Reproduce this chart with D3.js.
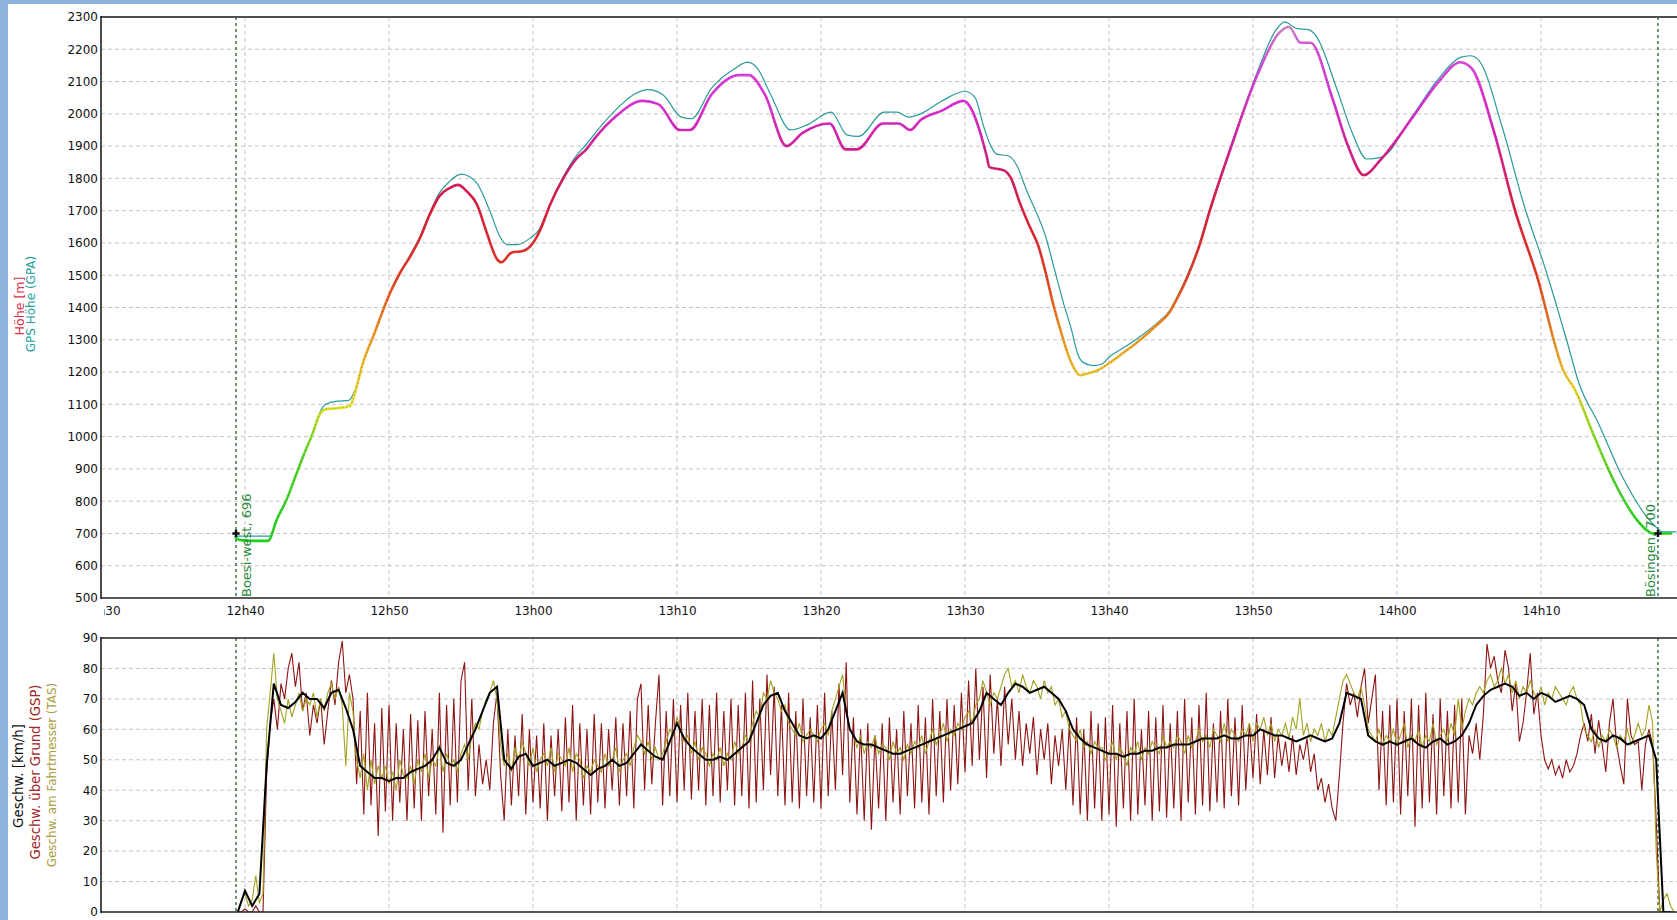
<!DOCTYPE html>
<html>
<head>
<meta charset="utf-8">
<script src="https://cdn.jsdelivr.net/npm/d3@7"></script>
<style>
body { margin: 0; background: #8db4de; }
svg { display: block; }
</style>
</head>
<body>
<script>
// time axis: minutes after 12h30
var timeTicks = [0, 10, 20, 30, 40, 50, 60, 70, 80, 90, 100]
var timeLabels = ["12h30", "12h40", "12h50", "13h00", "13h10", "13h20", "13h30", "13h40", "13h50", "14h00", "14h10"]
var altTicks = [500, 600, 700, 800, 900, 1000, 1100, 1200, 1300, 1400, 1500, 1600, 1700, 1800, 1900, 2000, 2100, 2200, 2300]
var spdTicks = [0, 10, 20, 30, 40, 50, 60, 70, 80, 90]

// waypoints [minute, name]
var waypoints = [[9.375, "Boesi-west, 696"], [108.125, "Bösingen, 700"]]

// barometric altitude [minute, m]
var hoehe = [[9.3,690],[9.6,680],[10.5,677],[11.6,677],[12.2,742],[12.9,806],[13.6,888],[14.05,940],[14.7,1010],[15.2,1070],[15.6,1085],[16.4,1088],[17.3,1095],[17.6,1130],[18.2,1230],[18.9,1310],[20.07,1445],[20.8,1510],[21.5,1560],[22.2,1620],[22.8,1685],[23.5,1745],[24.2,1770],[24.8,1780],[25.4,1760],[26.1,1720],[26.8,1630],[27.5,1550],[27.8,1540],[28.5,1570],[29.3,1575],[30.0,1600],[30.5,1640],[31.2,1720],[32.1,1800],[33.0,1860],[33.7,1890],[34.4,1930],[35.7,1990],[37.6,2040],[38.7,2030],[40.2,1950],[40.9,1950],[42.4,2060],[44.3,2120],[45.0,2120],[46.1,2060],[47.6,1900],[48.7,1940],[50.6,1970],[51.7,1890],[52.5,1890],[54.3,1970],[55.4,1970],[56.2,1950],[56.9,1980],[58.4,2010],[59.9,2040],[60.5,2010],[61.0,1950],[61.5,1870],[61.7,1835],[62.7,1825],[63.2,1800],[63.8,1725],[64.5,1650],[65.1,1590],[65.7,1490],[66.1,1415],[66.6,1335],[67.2,1250],[67.6,1210],[68.0,1190],[68.45,1195],[68.9,1200],[69.4,1210],[70.1,1230],[71.0,1260],[71.9,1290],[73.3,1345],[74.2,1385],[74.7,1425],[75.4,1490],[76.3,1595],[77.0,1700],[78.5,1900],[80.3,2120],[81.8,2250],[82.5,2270],[83.3,2220],[84.0,2220],[85.5,2050],[86.6,1900],[87.7,1810],[88.9,1860],[91.1,1990],[92.9,2100],[94.4,2160],[95.2,2140],[96.7,1950],[98.2,1700],[99.7,1500],[101.6,1200],[102.3,1150],[103.7,1000],[105.2,850],[106.7,740],[107.8,700],[109.1,700]]

// GPS altitude [minute, m]
var gpsHoehe = [[9.3,692],[11.8,692],[12.2,742],[12.9,806],[13.6,888],[14.05,940],[14.7,1010],[15.2,1075],[15.6,1100],[16.4,1110],[17.2,1112],[17.6,1140],[18.2,1230],[18.9,1310],[20.07,1445],[20.8,1510],[21.5,1565],[22.2,1625],[22.8,1690],[23.5,1755],[24.2,1790],[25.0,1813],[25.6,1805],[26.1,1785],[27.0,1700],[27.7,1620],[28.2,1595],[28.9,1595],[29.8,1615],[30.4,1640],[31.2,1720],[32.1,1805],[33.0,1870],[33.7,1905],[34.4,1945],[35.7,2010],[37.0,2060],[38.0,2075],[39.0,2060],[40.3,1990],[41.0,1985],[42.4,2080],[44.0,2140],[44.9,2160],[45.6,2140],[46.5,2060],[47.9,1950],[49.0,1965],[50.7,2005],[51.8,1935],[52.6,1930],[54.4,2005],[55.3,2005],[56.1,1990],[56.9,2000],[58.4,2040],[60.0,2070],[60.7,2050],[61.3,1960],[61.8,1900],[62.2,1875],[63.0,1870],[63.6,1840],[64.3,1760],[65.0,1690],[65.6,1620],[66.2,1520],[66.8,1420],[67.4,1330],[67.8,1260],[68.2,1230],[68.9,1220],[69.5,1225],[70.1,1250],[71.0,1275],[72.0,1305],[73.3,1350],[74.2,1390],[74.7,1430],[75.4,1495],[76.3,1600],[77.0,1705],[78.5,1905],[80.3,2130],[81.6,2260],[82.2,2285],[83.0,2265],[83.9,2260],[84.4,2240],[85.8,2080],[86.9,1940],[87.9,1860],[88.9,1865],[91.1,1995],[92.9,2110],[94.4,2175],[95.1,2180],[95.7,2165],[97.3,1960],[98.8,1720],[100.3,1520],[101.9,1280],[102.6,1170],[104.0,1040],[105.6,880],[107.2,760],[108.1,715],[108.4,705],[109.4,705]]

// speeds, one sample every 0.25 min from 9.5 min (20 per row = 5 min)
var spdStart = 9.5, spdStep = 0.25
var gsp = [
  0,0,1,0,0,2,0,0,45,62,70,60,75,70,80,85,74,82,66,72,
  58,68,62,70,55,66,76,68,82,89,72,78,70,42,66,32,72,35,62,25,
  67,33,68,30,62,36,60,30,65,34,63,30,66,38,60,32,72,26,68,35,
  70,36,76,82,40,70,38,55,42,50,40,62,72,45,30,60,35,58,38,65,
  32,60,36,58,34,62,30,58,38,60,33,64,36,68,30,62,35,60,32,65,
  36,62,34,60,40,64,35,62,38,66,34,70,75,40,68,42,62,78,35,66,
  38,70,36,68,40,72,37,66,40,70,35,68,38,72,36,66,40,70,35,68,
  38,72,34,76,36,70,40,78,45,74,38,68,35,72,36,66,34,70,38,64,
  36,68,34,72,38,66,40,75,45,82,36,64,32,60,30,62,27,58,34,62,
  30,64,36,60,32,66,38,62,34,68,36,64,32,70,38,66,36,70,40,68,
  42,72,46,76,48,80,50,74,44,78,52,70,48,74,55,70,50,66,48,62,
  52,64,45,60,50,62,42,58,48,60,40,62,35,64,32,60,30,66,34,62,
  30,64,32,68,28,62,34,66,30,70,32,60,35,66,30,64,33,68,31,62,
  34,66,30,70,36,64,32,68,35,72,33,62,36,66,34,70,38,64,35,68,
  40,62,44,65,42,60,45,64,44,58,48,56,46,58,45,55,50,57,46,52,
  40,44,36,42,34,30,45,62,75,68,72,64,74,80,62,70,78,40,66,35,
  68,36,70,32,66,38,70,28,68,34,72,36,65,32,70,38,66,34,68,36,
  70,32,58,52,62,50,65,88,80,84,76,72,86,80,66,75,56,62,72,85,
  65,72,58,50,47,50,45,48,44,50,46,48,52,58,62,56,65,52,63,55,
  46,62,70,55,48,42,70,58,55,56,40,55,60,55,30,0,0,0,0,0]
var tas = [
  0,4,6,2,4,12,3,6,60,72,85,70,66,62,70,64,68,72,66,70,
  68,72,64,70,66,72,75,70,74,68,48,72,66,50,44,52,40,50,42,48,
  44,48,42,46,40,50,45,44,48,42,50,46,52,44,50,48,55,46,52,48,
  50,46,52,55,50,58,62,60,66,70,72,76,70,55,48,52,46,54,50,56,
  52,48,54,46,50,52,48,54,46,52,50,48,54,46,52,50,44,48,46,50,
  48,46,52,48,50,54,46,50,52,48,54,58,56,52,56,50,54,50,52,56,
  60,58,64,60,56,58,52,56,50,54,52,48,52,50,54,48,52,50,56,52,
  54,58,56,62,66,64,72,70,76,72,70,66,68,62,60,58,62,56,58,60,
  58,56,60,62,58,66,70,74,78,66,60,58,54,58,52,56,54,58,52,55,
  54,50,56,52,54,50,55,52,56,54,58,52,56,60,55,58,62,56,60,58,
  62,60,64,66,62,68,70,76,72,68,72,70,74,78,80,74,76,72,78,74,
  72,76,74,70,76,72,74,68,70,64,66,60,58,56,60,54,56,52,56,54,
  54,50,52,56,50,54,52,48,54,52,56,50,54,52,56,54,52,58,54,56,
  54,58,56,52,58,54,56,60,56,58,54,60,58,56,62,56,60,58,56,60,
  58,62,56,62,60,64,58,62,56,60,58,62,57,64,60,70,58,62,56,60,
  58,62,56,60,58,64,70,76,78,75,72,70,74,68,60,58,56,60,55,58,
  56,60,55,58,62,54,58,56,60,54,58,56,62,55,58,60,56,62,58,70,
  60,66,70,68,72,74,72,76,78,74,76,80,75,78,72,76,70,74,72,76,
  72,70,74,68,72,70,74,72,70,68,72,74,70,68,60,58,56,60,54,58,
  56,60,58,54,58,56,60,55,58,62,58,60,68,62,20,0,4,6,2,0]

// smoothed speed, one sample every 0.5 min from 9.5 min (20 per row = 10 min)
var avgStart = 9.5, avgStep = 0.5
var geschw = [
  0,7,2,6,48,75,68,67,69,72,70,70,67,72,73,67,60,48,46,44,
  44,43,44,44,46,47,48,50,54,49,48,50,55,60,66,72,74,50,47,51,
  52,48,49,50,48,49,50,49,47,45,47,48,50,48,49,52,55,53,51,50,
  56,62,57,54,52,50,50,51,50,52,54,56,62,68,71,72,66,62,58,57,
  58,57,60,66,72,60,56,55,55,54,53,52,52,53,54,55,56,57,58,59,
  60,61,62,66,72,70,68,72,75,74,72,73,74,72,70,66,60,57,55,54,
  53,52,52,51,52,52,53,53,54,54,55,55,55,56,57,57,57,58,57,57,
  58,58,60,59,58,58,57,56,57,58,57,56,57,62,72,71,70,58,56,55,
  56,55,56,57,55,54,56,57,55,56,58,62,68,71,73,74,75,74,71,72,
  70,72,71,69,70,71,70,68,60,57,56,58,57,55,56,57,58,50,0,0]

var width = 1677, height = 920
var plotLeft = 101, plotRight = 1677
var fontFam = "DejaVu Sans, Verdana, sans-serif"

var svg = d3.select("body").append("svg").attr("width", width).attr("height", height)
svg.append("rect").attr("width", width).attr("height", height).attr("fill", "#8db4de")
svg.append("rect").attr("x", 8).attr("y", 4).attr("width", width - 8).attr("height", height - 4).attr("fill", "#fff")

var x = d3.scaleLinear().domain([0, (plotRight - plotLeft) / 14.4]).range([plotLeft, plotRight])
var yAlt = d3.scaleLinear().domain([500, 2300]).range([598, 17])
var ySpd = d3.scaleLinear().domain([0, 90]).range([912, 638])

var colorAlt = d3.scaleLinear()
    .domain([680, 950, 1100, 1200, 1350, 1500, 1700, 1850, 2000, 2200, 2280])
    .range(["#22d422", "#5ad62a", "#e4e42a", "#eec22c", "#ef8a22", "#e23a22", "#dc1e3c", "#d21c78", "#dc2ad6", "#dc50dc", "#c890c8"])
    .interpolate(d3.interpolateRgb)

var defs = svg.append("defs")
defs.append("clipPath").attr("id", "clipTop").append("rect")
    .attr("x", plotLeft).attr("y", 17).attr("width", plotRight - plotLeft).attr("height", 598 - 17)
defs.append("clipPath").attr("id", "clipBot").append("rect")
    .attr("x", plotLeft).attr("y", 638).attr("width", plotRight - plotLeft).attr("height", 912 - 638)
defs.append("clipPath").attr("id", "clipLabels").append("rect")
    .attr("x", 104).attr("y", 0).attr("width", plotRight - 104).attr("height", 40)

// altitude colours along the time axis
var grad = defs.append("linearGradient").attr("id", "altGrad")
    .attr("gradientUnits", "userSpaceOnUse")
    .attr("x1", plotLeft).attr("x2", plotRight).attr("y1", 0).attr("y2", 0)
grad.selectAll("stop").data(hoehe).enter().append("stop")
    .attr("offset", function(d) { return (x(d[0]) - plotLeft) / (plotRight - plotLeft) })
    .attr("stop-color", function(d) { return colorAlt(d[1]) })

// grids
function grid(g, yScale, ticks, y0, y1) {
  g.selectAll(".hg").data(ticks.slice(1, -1)).enter().append("line")
    .attr("x1", plotLeft).attr("x2", plotRight)
    .attr("y1", function(d) { return yScale(d) }).attr("y2", function(d) { return yScale(d) })
    .attr("stroke", "#c4c4c4").attr("stroke-dasharray", "4,3")
  g.selectAll(".vg").data(timeTicks.slice(1)).enter().append("line")
    .attr("x1", function(d) { return x(d) }).attr("x2", function(d) { return x(d) })
    .attr("y1", y0).attr("y2", y1)
    .attr("stroke", "#c4c4c4").attr("stroke-dasharray", "4,3")
  g.selectAll(".wp").data(waypoints).enter().append("line")
    .attr("x1", function(d) { return x(d[0]) }).attr("x2", function(d) { return x(d[0]) })
    .attr("y1", y0).attr("y2", y1)
    .attr("stroke", "#1d5e2a").attr("stroke-width", 1.3).attr("stroke-dasharray", "3,3")
}
grid(svg.append("g"), yAlt, altTicks, 17, 598)
grid(svg.append("g"), ySpd, spdTicks, 638, 912)

// UPPER CHART
var altLine = d3.line().curve(d3.curveMonotoneX)
    .x(function(d) { return x(d[0]) }).y(function(d) { return yAlt(d[1]) })
var gTop = svg.append("g").attr("clip-path", "url(#clipTop)")
gTop.append("path").datum(gpsHoehe).attr("d", altLine)
    .attr("fill", "none").attr("stroke", "#2a9a9a").attr("stroke-width", 1.2)
gTop.append("path").datum(hoehe).attr("d", altLine)
    .attr("fill", "none").attr("stroke", "url(#altGrad)").attr("stroke-width", 2.6)
    .attr("stroke-linejoin", "round")
gTop.append("path").datum(hoehe).attr("d", altLine)
    .attr("fill", "none").attr("stroke", "#333").attr("stroke-width", 0.6).attr("stroke-dasharray", "1,3")
    .attr("opacity", 0.6)

// waypoint markers and names
gTop.selectAll(".mk").data(waypoints).enter().append("path")
    .attr("transform", function(d) { return "translate(" + x(d[0]) + "," + yAlt(700) + ")" })
    .attr("d", d3.symbol().type(d3.symbolCross).size(30))
    .attr("fill", "#111")
svg.selectAll(".wpname").data(waypoints).enter().append("text")
    .attr("transform", function(d, i) {
      var px = i == 0 ? x(d[0]) + 15 : x(d[0]) - 3
      return "translate(" + px + ",597) rotate(-90)" })
    .attr("font-family", fontFam).attr("font-size", 13).attr("fill", "#2a8a3a")
    .text(function(d) { return d[1] })

// LOWER CHART
var gBot = svg.append("g").attr("clip-path", "url(#clipBot)")
var spdLine = d3.line().x(function(d) { return x(d[0]) }).y(function(d) { return ySpd(d[1]) })
function series(values, start, step) {
  return values.map(function(v, i) { return [start + i * step, v] })
}
gBot.append("path").datum(series(gsp, spdStart, spdStep)).attr("d", spdLine)
    .attr("fill", "none").attr("stroke", "#8e1414").attr("stroke-width", 1.1)
gBot.append("path").datum(series(tas, spdStart, spdStep)).attr("d", spdLine)
    .attr("fill", "none").attr("stroke", "#a2a220").attr("stroke-width", 1.1)
gBot.append("path").datum(series(geschw, avgStart, avgStep)).attr("d", spdLine)
    .attr("fill", "none").attr("stroke", "#000").attr("stroke-width", 2)

// axes
var leftAlt = d3.axisLeft(yAlt).tickValues(altTicks).tickSize(0).tickPadding(3).tickFormat(d3.format("d"))
var leftSpd = d3.axisLeft(ySpd).tickValues(spdTicks).tickSize(0).tickPadding(3).tickFormat(d3.format("d"))
var bottomT = d3.axisBottom(x).tickValues(timeTicks).tickSize(0).tickPadding(8)
    .tickFormat(function(d, i) { return timeLabels[i] })

svg.append("g").attr("transform", "translate(" + plotLeft + ",0)").call(leftAlt)
svg.append("g").attr("transform", "translate(" + plotLeft + ",0)").call(leftSpd)
svg.append("g").attr("clip-path", "url(#clipLabels)").attr("transform", "translate(0,598)").call(bottomT)
svg.selectAll(".domain").remove()
svg.selectAll(".tick text").attr("font-family", fontFam).attr("font-size", 12).attr("fill", "#111")

// frames
svg.append("line").attr("x1", plotLeft).attr("x2", plotRight).attr("y1", 17).attr("y2", 17).attr("stroke", "#505050").attr("stroke-width", 2)
svg.append("line").attr("x1", plotLeft).attr("x2", plotRight).attr("y1", 598).attr("y2", 598).attr("stroke", "#222").attr("stroke-width", 1.5)
svg.append("line").attr("x1", plotLeft).attr("x2", plotRight).attr("y1", 638).attr("y2", 638).attr("stroke", "#222").attr("stroke-width", 1.5)
svg.append("line").attr("x1", plotLeft).attr("x2", plotRight).attr("y1", 912).attr("y2", 912).attr("stroke", "#222").attr("stroke-width", 1.5)
svg.append("line").attr("x1", plotLeft).attr("x2", plotLeft).attr("y1", 16).attr("y2", 599).attr("stroke", "#111").attr("stroke-width", 1.5)
svg.append("line").attr("x1", plotLeft).attr("x2", plotLeft).attr("y1", 637).attr("y2", 913).attr("stroke", "#111").attr("stroke-width", 1.5)

// axis titles
function vtitle(px, py, size, color, txt) {
  svg.append("text").attr("transform", "translate(" + px + "," + py + ") rotate(-90)")
    .attr("text-anchor", "middle").attr("font-family", fontFam).attr("font-size", size)
    .attr("fill", color).text(txt)
}
vtitle(24, 306, 12.6, "#dc3048", "Höhe [m]")
vtitle(34.5, 304, 12, "#22a0a0", "GPS Höhe (GPA)")
vtitle(23, 776, 13.4, "#111", "Geschw. [km/h]")
vtitle(39.5, 772, 13.2, "#a02828", "Geschw. über Grund (GSP)")
vtitle(56, 775, 11.9, "#a8a040", "Geschw. am Fahrtmesser (TAS)")
</script>
</body>
</html>
